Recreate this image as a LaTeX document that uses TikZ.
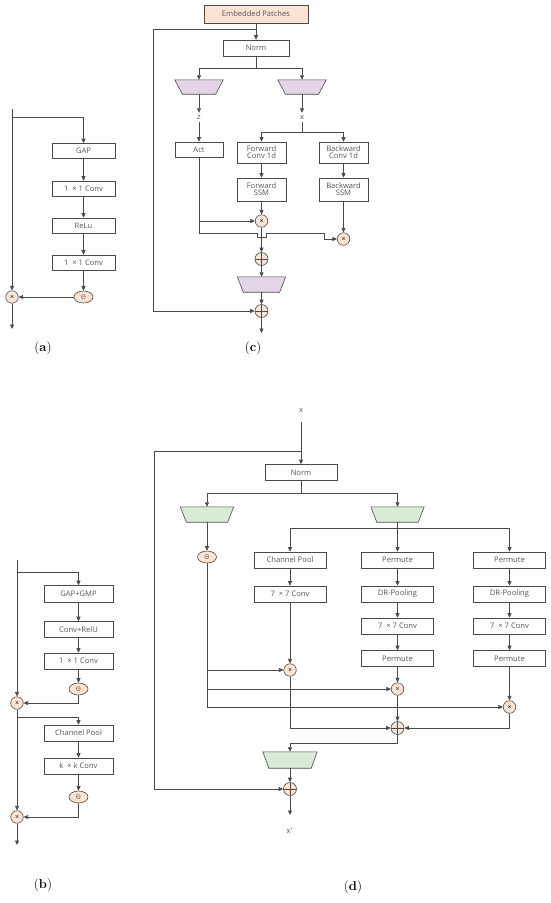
\documentclass[tikz,border=0pt]{standalone}
\usepackage{fontspec}
\usetikzlibrary{arrows.meta,shapes.geometric}
\newfontfamily\tf{Open Sans}
\definecolor{lc}{HTML}{4A4A4A}
\definecolor{tc}{HTML}{555555}
\definecolor{pe}{HTML}{FBE3D3}
\definecolor{lav}{HTML}{E3D4E8}
\definecolor{grn}{HTML}{D9EBD6}
\tikzset{
 box/.style={draw=lc, fill=white, line width=0.6pt, minimum height=15, inner sep=1, font=\tf\fontsize{7.6}{8.3}\selectfont, text=tc, align=center},
 ln/.style={draw=lc, line width=0.65pt},
 arr/.style={ln, -{Triangle[length=4.5pt,width=4pt]}},
 mul/.style={circle, draw=lc, line width=0.6pt, fill=pe, minimum size=12.5, inner sep=0, font=\tf\bfseries\fontsize{7}{7}\selectfont, text=lc},
 add/.style={circle, draw=lc, line width=0.6pt, fill=pe, minimum size=13, inner sep=0,
   path picture={\draw[lc,line width=0.5pt] (path picture bounding box.north) -- (path picture bounding box.south) (path picture bounding box.west) -- (path picture bounding box.east);}},
 sig/.style={ellipse, draw=lc, line width=0.6pt, fill=pe, minimum width=19, minimum height=12, inner sep=0, font=\tf\fontsize{6.5}{7}\selectfont, text=tc},
 trz/.style={draw=none, minimum height=15, inner sep=0},
 lbl/.style={font=\tf\fontsize{7.6}{8.3}\selectfont, text=tc, inner sep=2.5},
 figcap/.style={font=\fontsize{13}{15}\selectfont, inner sep=0},
}
\newcommand{\trap}[3]{\draw[lc, line width=0.6pt, fill=#2] (#1.north west) -- (#1.north east) -- ([xshift=-#3]#1.south east) -- ([xshift=#3]#1.south west) -- cycle;}
\begin{document}
\begin{tikzpicture}[x=1pt,y=-1pt]
\useasboundingbox (0,0) rectangle (550,903);
% ================= (a)
\node[box, minimum width=63] (aGAP) at (83.5,151) {GAP};
\node[box, minimum width=63] (aC1) at (83.5,188.5) {1~~× 1 Conv};
\node[box, minimum width=63] (aR) at (83.5,225.5) {ReLu};
\node[box, minimum width=63] (aC2) at (83.5,262.5) {1~~× 1 Conv};
\node[sig] (aS) at (83.5,297) {Θ};
\node[mul] (aM) at (12,297) {×};
\coordinate (aTop) at (12,109);
\coordinate (aBr) at (12,117);
\coordinate (aOut) at (12,329);
\draw[ln] (aTop) -- (aBr);
\draw[arr] (aBr) -- (aM);
\draw[arr] (aBr) -| (aGAP.north);
\draw[arr] (aGAP) -- (aC1);
\draw[arr] (aC1) -- (aR);
\draw[arr] (aR) -- (aC2);
\draw[arr] (aC2) -- (aS);
\draw[arr] (aS) -- (aM);
\draw[arr] (aM) -- (aOut);
\node[figcap] at (43,348) {(\textbf{a})};
% ================= (c)
\node[box, fill=pe, minimum width=104, minimum height=18] (cE) at (256,14) {Embedded Patches};
\node[box, minimum width=66, minimum height=16] (cN) at (256,48) {Norm};
\node[trz, minimum width=48, minimum height=14] (cT1) at (199,87) {};
\node[trz, minimum width=48, minimum height=14] (cT2) at (302,87) {};
\trap{cT1}{lav}{7.5}
\trap{cT2}{lav}{7.5}
\node[lbl] (cz) at (199,117.5) {z};
\node[lbl] (cx) at (302,117.5) {x};
\node[box, minimum width=48] (cA) at (199,149.5) {Act};
\node[box, minimum width=49, minimum height=21, inner sep=0.5] (cF1) at (261.5,152.5) {Forward\\[-1.5pt]Conv 1d};
\node[box, minimum width=49, minimum height=21, inner sep=0.5] (cB1) at (343.5,152.5) {Backward\\[-1.5pt]Conv 1d};
\node[box, minimum width=49, minimum height=23, inner sep=0.5] (cF2) at (261.5,189.5) {Forward\\[-1.5pt]SSM};
\node[box, minimum width=49, minimum height=23, inner sep=0.5] (cB2) at (343.5,189.5) {Backward\\[-1.5pt]SSM};
\node[mul] (cM1) at (261.5,221) {×};
\node[mul] (cM2) at (343.5,239) {×};
\node[add] (cP1) at (261.5,259) {};
\node[trz, minimum width=48, minimum height=15] (cT3) at (261.5,284.5) {};
\trap{cT3}{lav}{6}
\node[add] (cP2) at (261.5,311) {};
\coordinate (cOut) at (261.5,333);
\coordinate (cSk) at (256,29);
\coordinate (cSp) at (256,68);
\coordinate (cXs) at (302,132);
\draw[arr] (cE) -- (cN);
\draw[ln] (cSk) -| (153,311);
\draw[arr] (153,311) -- (cP2);
\draw[ln] (cN) -- (cSp);
\draw[arr] (cSp) -| (cT1.north);
\draw[arr] (cSp) -| (cT2.north);
\draw[arr] (cT1) -- (cz);
\draw[arr] (cT2) -- (cx);
\draw[arr] (cz) -- (cA);
\draw[ln] (cx) -- (cXs);
\draw[arr] (cXs) -| (cF1.north);
\draw[arr] (cXs) -| (cB1.north);
\draw[arr] (cF1) -- (cF2);
\draw[arr] (cB1) -- (cB2);
\draw[arr] (cF2) -- (cM1);
\draw[arr] (cB2) -- (cM2);
\draw[arr] (199,221) -- (cM1);
\draw[ln] (cA.south) -- (199,233) -- (257,233) -- (257,237.5) -- (266,237.5) -- (266,233) -- (324,233) -- (324,239);
\draw[arr] (324,239) -- (cM2);
\draw[arr] (cM1) -- (cP1);
\draw[arr] (cP1) -- (cT3);
\draw[arr] (cT3) -- (cP2);
\draw[arr] (cP2) -- (cOut);
\node[figcap] at (253,348) {(\textbf{c})};
% ================= (b)
\node[box, minimum width=69, minimum height=17] (bG) at (78.5,594) {GAP+GMP};
\node[box, minimum width=69, minimum height=16] (bC) at (78.5,629.5) {Conv+RelU};
\node[box, minimum width=69, minimum height=16] (bC1) at (78.5,661) {1~~× 1 Conv};
\node[sig] (bS1) at (78.5,689) {Θ};
\node[mul] (bM1) at (17,703) {×};
\node[box, minimum width=69, minimum height=16] (bCP) at (78.5,733) {Channel Pool};
\node[box, minimum width=69, minimum height=16] (bK) at (78.5,766) {k~~× k Conv};
\node[sig] (bS2) at (78.5,797) {Θ};
\node[mul] (bM2) at (17,817) {×};
\coordinate (bTop) at (17,560);
\coordinate (bBr1) at (17,572);
\coordinate (bBr2) at (17,717);
\coordinate (bOut) at (17,845);
\draw[ln] (bTop) -- (bBr1);
\draw[arr] (bBr1) -- (bM1);
\draw[arr] (bBr1) -| (bG.north);
\draw[arr] (bG) -- (bC);
\draw[arr] (bC) -- (bC1);
\draw[arr] (bC1) -- (bS1);
\draw[arr] (bS1.south) |- (bM1);
\draw[ln] (bM1) -- (bBr2);
\draw[arr] (bBr2) -- (bM2);
\draw[arr] (bBr2) -| (bCP.north);
\draw[arr] (bCP) -- (bK);
\draw[arr] (bK) -- (bS2);
\draw[arr] (bS2.south) |- (bM2);
\draw[arr] (bM2) -- (bOut);
\node[figcap] at (43,885) {(\textbf{b})};
% ================= (d)
\node[lbl] (dx) at (301,410) {x};
\coordinate (dTop) at (301,422);
\coordinate (dSk) at (301,451);
\node[box, minimum width=72, minimum height=16] (dN) at (301,472.5) {Norm};
\coordinate (dSp) at (301,493);
\node[trz, minimum width=53, minimum height=15] (dT1) at (207,514.5) {};
\node[trz, minimum width=53, minimum height=15] (dT2) at (397.5,514.5) {};
\trap{dT1}{grn}{6}
\trap{dT2}{grn}{6}
\node[sig] (dS) at (207,557) {Θ};
\coordinate (dSp2) at (397.5,528);
\node[box, minimum width=72, minimum height=16] (dCP) at (290,560) {Channel Pool};
\node[box, minimum width=72, minimum height=16] (dP1) at (397.5,560) {Permute};
\node[box, minimum width=72, minimum height=16] (dQ1) at (509.5,560) {Permute};
\node[box, minimum width=72, minimum height=16] (dC7) at (290,594) {7~~× 7 Conv};
\node[box, minimum width=72, minimum height=16] (dP2) at (397.5,594) {DR-Pooling};
\node[box, minimum width=72, minimum height=16] (dQ2) at (509.5,594) {DR-Pooling};
\node[box, minimum width=72, minimum height=16] (dP3) at (397.5,626) {7~~× 7 Conv};
\node[box, minimum width=72, minimum height=16] (dQ3) at (509.5,626) {7~~× 7 Conv};
\node[box, minimum width=72, minimum height=16] (dP4) at (397.5,658.5) {Permute};
\node[box, minimum width=72, minimum height=16] (dQ4) at (509.5,658.5) {Permute};
\node[mul] (dM1) at (290,670) {×};
\node[mul] (dM2) at (397.5,689) {×};
\node[mul] (dM3) at (509.5,707) {×};
\node[add] (dP) at (397.5,728) {};
\coordinate (dSp3) at (397.5,743);
\node[trz, minimum width=54, minimum height=16] (dT3) at (290,760) {};
\trap{dT3}{grn}{6}
\node[add] (dPo) at (290,789) {};
\coordinate (dOut) at (290,815);
\node[lbl] (dxo) at (290,831) {x$'$};
\draw[ln] (dTop) -- (dSk);
\draw[arr] (dSk) -- (dN);
\draw[ln] (dSk) -| (154,789);
\draw[arr] (154,789) -- (dPo);
\draw[ln] (dN) -- (dSp);
\draw[arr] (dSp) -| (dT1.north);
\draw[arr] (dSp) -| (dT2.north);
\draw[arr] (dT1) -- (dS);
\draw[ln] (dT2) -- (dSp2);
\draw[arr] (dSp2) -| (dCP.north);
\draw[arr] (dSp2) -- (dP1);
\draw[arr] (dSp2) -| (dQ1.north);
\draw[arr] (dCP) -- (dC7);
\draw[arr] (dP1) -- (dP2);
\draw[arr] (dP2) -- (dP3);
\draw[arr] (dP3) -- (dP4);
\draw[arr] (dQ1) -- (dQ2);
\draw[arr] (dQ2) -- (dQ3);
\draw[arr] (dQ3) -- (dQ4);
\draw[arr] (dC7) -- (dM1);
\draw[arr] (dP4) -- (dM2);
\draw[arr] (dQ4) -- (dM3);
\draw[ln] (dS) -- (207,707);
\draw[arr] (207,670) -- (dM1);
\draw[arr] (207,689) -- (dM2);
\draw[arr] (207,707) -- (dM3);
\draw[arr] (dM1) |- (dP);
\draw[arr] (dM2) -- (dP);
\draw[arr] (dM3) |- (dP);
\draw[ln] (dP) -- (dSp3);
\draw[arr] (dSp3) -| (dT3.north);
\draw[arr] (dT3) -- (dPo);
\draw[arr] (dPo) -- (dOut);
\node[figcap] at (353,887) {(\textbf{d})};
\end{tikzpicture}
\end{document}
